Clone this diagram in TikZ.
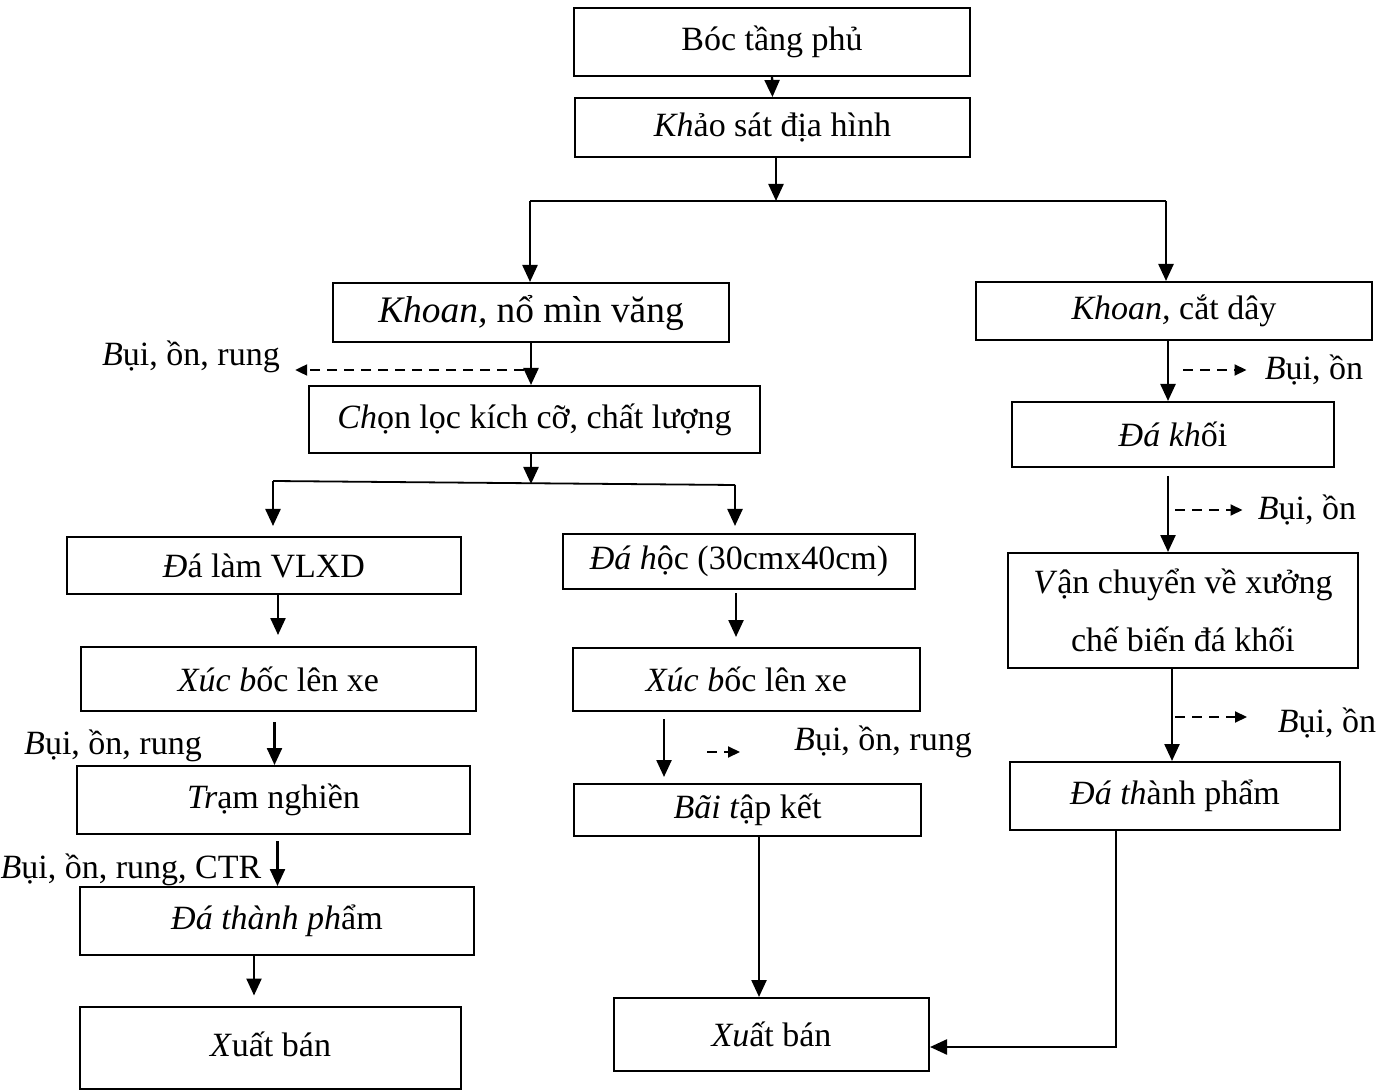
\documentclass[tikz,border=0pt]{standalone}
\usepackage{fontspec}
\setmainfont{Liberation Serif}
\usetikzlibrary{arrows.meta}

\begin{document}
\begin{tikzpicture}[
      x=0.5pt, y=-0.5pt, >={Triangle[length=8.5pt,width=7.5pt]},
      box/.style={draw, line width=1pt, inner sep=0pt, align=center,
        font=\fontsize{17}{29}\selectfont},
      note/.style={inner sep=0pt, font=\fontsize{17}{20}\selectfont},
      flow/.style={->, line width=1.2pt},
      tie/.style={line width=0.9pt},
      emit/.style={-{Triangle[length=6pt,width=5.5pt]}, line width=1pt,
        dash pattern=on 5pt off 3.5pt}]
      \useasboundingbox (0,0) rectangle (1391,1090);
      % main trunk
      \node[box, minimum width=198pt, minimum height=34pt] (bocphu) at (772,42) {Bóc tầng phủ};
      \node[box, minimum width=197.5pt, minimum height=29.5pt] (khaosat) at (772.5,127.5) {\raisebox{-1.5pt}{\textit{Kh}ảo sát địa hình}};
      \node[box, minimum width=198pt, minimum height=29.5pt, font=\fontsize{18.7}{29}\selectfont] (khoannm) at (531,312.5) {\textit{Khoan,} nổ mìn văng};
      \node[box, minimum width=198pt, minimum height=29pt] (khoancd) at (1174,311) {\textit{Khoan,} cắt dây};
      \node[box, minimum width=225.5pt, minimum height=33.5pt] (chonloc) at (534.5,419.5) {\textit{Ch}ọn lọc kích cỡ, chất lượng};
      % left column
      \node[box, minimum width=197pt, minimum height=28.5pt] (vlxd) at (264,565.5) {\textit{Đ}á làm VLXD};
      \node[box, minimum width=197.5pt, minimum height=32pt] (xucL) at (278.5,679) {\textit{Xúc b}ốc lên xe};
      \node[box, minimum width=196.5pt, minimum height=34pt] (tram) at (273.5,800) {\textit{Tr}ạm nghiền};
      \node[box, minimum width=197pt, minimum height=34pt] (dtpL) at (277,921) {\textit{Đá thành ph}ẩm};
      \node[box, minimum width=190.5pt, minimum height=41pt] (xbL) at (270.5,1047.5) {\raisebox{3pt}{\textit{X}uất bán}};
      % middle column
      \node[box, minimum width=176pt, minimum height=27.5pt] (dahoc) at (739,561.5) {\textit{Đá h}ộc (30cmx40cm)};
      \node[box, minimum width=173.5pt, minimum height=31.5pt] (xucM) at (746.5,679.5) {\textit{Xúc b}ốc lên xe};
      \node[box, minimum width=173.5pt, minimum height=26pt] (baitk) at (747.5,810) {\raisebox{-3pt}{\textit{Bãi t}ập kết}};
      \node[box, minimum width=157.5pt, minimum height=36.5pt] (xbM) at (771.5,1034.5) {\textit{Xu}ất bán};
      % right column
      \node[box, minimum width=161pt, minimum height=32.5pt] (dakhoi) at (1173,434.5) {\textit{Đá kh}ối};
      \node[box, minimum width=175pt, minimum height=57.5pt] (vanchuyen) at (1183,610.5) {\textit{V}ận chuyển về xưởng\\chế biến đá khối};
      \node[box, minimum width=165pt, minimum height=34pt] (dtpR) at (1175,796) {\textit{Đá th}ành phẩm};
      % emissions
      \node[note] (bui1) at (191,357) {\textit{B}ụi, ồn, rung};
      \node[note] (bui2) at (1314,370) {\textit{B}ụi, ồn};
      \node[note] (bui3) at (1307,510) {\textit{B}ụi, ồn};
      \node[note] (bui4) at (883,742) {\textit{B}ụi, ồn, rung};
      \node[note] (bui5) at (1327,723) {\textit{B}ụi, ồn};
      \node[note] (bui6) at (113,746) {\textit{B}ụi, ồn, rung};
      \node[note] (bui7) at (131,870) {\textit{B}ụi, ồn, rung, CTR};
      % branch points
      \coordinate (split1) at (776,201);
      \coordinate (brL) at (530,201);
      \coordinate (brR) at (1166,201);
      \coordinate (split2) at (531,484);
      \coordinate (brL2) at (273,481);
      \coordinate (brR2) at (735,485);
      \draw[flow] (bocphu.south) -- (khaosat.north);
      \draw[flow] (split1 |- khaosat.south) -- (split1);
      \draw[tie] (brL) -- (brR);
      \draw[flow] (brL) -- (brL |- khoannm.north);
      \draw[flow] (brR) -- (brR |- khoancd.north);
      \draw[flow] (khoannm.south) -- (khoannm.south |- chonloc.north);
      \draw[flow] (split2 |- chonloc.south) -- (split2);
      \draw[tie] (brL2) -- (brR2);
      \draw[flow, shorten >=5pt] (brL2) -- (brL2 |- vlxd.north);
      \draw[flow, shorten >=3.5pt] (brR2) -- (brR2 |- dahoc.north);
      % left column flow
      \draw[flow, shorten >=5.5pt] ([xshift=7pt]vlxd.south) -- ([xshift=7pt]vlxd.south |- xucL.north);
      \draw[flow, shorten <=5pt] ([xshift=-2pt]xucL.south) -- ([xshift=-2pt]xucL.south |- tram.north);
      \draw[flow, shorten <=3pt] ([xshift=2pt]tram.south) -- ([xshift=2pt]tram.south |- dtpL.north);
      \draw[flow, shorten >=5pt] ([xshift=-11.5pt]dtpL.south) -- ([xshift=-11.5pt]dtpL.south |- xbL.north);
      % middle column flow
      \draw[flow, shorten >=5pt, shorten <=1.5pt] ([xshift=-1.5pt]dahoc.south) -- ([xshift=-1.5pt]dahoc.south |- xucM.north);
      \draw[flow, shorten <=3.5pt, shorten >=3pt] ([xshift=-41.25pt]xucM.south) -- ([xshift=-41.25pt]xucM.south |- baitk.north);
      \draw[flow] ([xshift=5.75pt]baitk.south) -- ([xshift=5.75pt]baitk.south |- xbM.north);
      % right column flow
      \draw[flow] ([xshift=-3pt]khoancd.south) -- ([xshift=-3pt]khoancd.south |- dakhoi.north);
      \draw[flow, shorten <=4pt] ([xshift=-2.5pt]dakhoi.south) -- ([xshift=-2.5pt]dakhoi.south |- vanchuyen.north);
      \draw[flow] ([xshift=-5.5pt]vanchuyen.south) -- ([xshift=-5.5pt]vanchuyen.south |- dtpR.north);
      \draw[flow] ([xshift=-29.5pt]dtpR.south) |- ([yshift=-6.25pt]xbM.east);
      % dashed emission arrows
      \coordinate (e1) at (524,370);
      \coordinate (e2) at (1183,370);
      \coordinate (e3) at (1175,510);
      \coordinate (e4a) at (707,752);
      \coordinate (e4b) at (740,752);
      \coordinate (e5a) at (1175,717);
      \coordinate (e5b) at (1247,717);
      \draw[emit, shorten >=7.5pt] (e1) -- (e1 -| bui1.east);
      \draw[emit, shorten >=9pt] (e2) -- (bui2.west);
      \draw[emit, shorten >=7.5pt] (e3) -- (bui3.west);
      \draw[emit] (e4a) -- (e4b);
      \draw[emit] (e5a) -- (e5b);
    \end{tikzpicture}
\end{document}
